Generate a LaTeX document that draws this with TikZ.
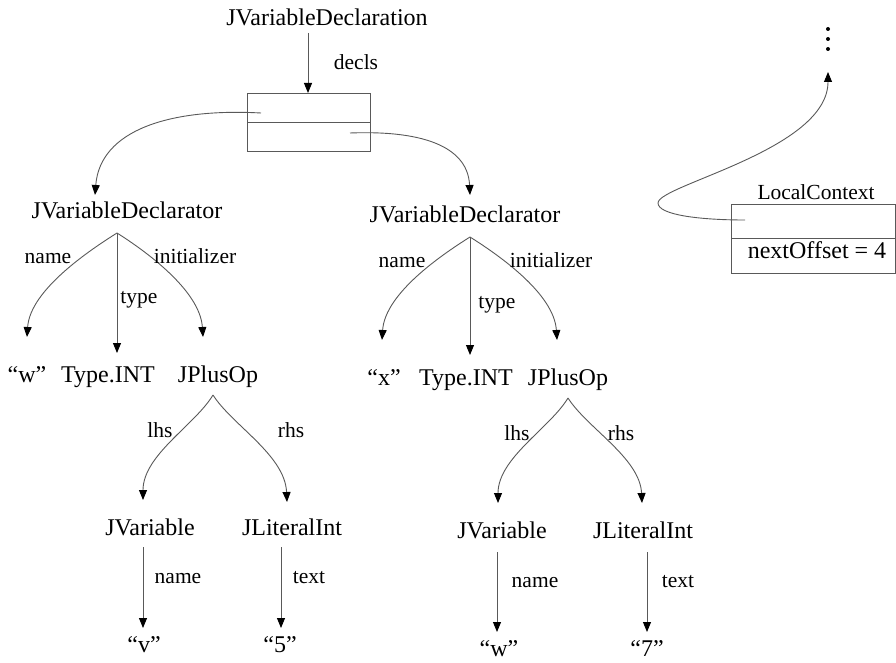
\documentclass[tikz,border=0pt]{standalone}
\usepackage{fontspec}
\setmainfont{Liberation Serif}
\usetikzlibrary{arrows.meta}
\newcommand\ndfont{\fontsize{24}{28}\selectfont}
\newcommand\lblfont{\fontsize{21.5}{26}\selectfont}
\tikzset{
  nd/.style={font=\ndfont, inner sep=0pt, anchor=base},
  lbl/.style={font=\lblfont, inner sep=0pt, anchor=base},
  arr/.style={draw=black!65, line width=0.9pt, -{Triangle[length=10pt,width=8pt,color=black]}},
  boxline/.style={draw=black!65, line width=0.8pt}
}
\begin{document}
\begin{tikzpicture}[x=1pt,y=-1pt]
\useasboundingbox (0,0) rectangle (896,663);
% top
\node[nd] (decl) at (327,26) {JVariableDeclaration};
\coordinate (declOut) at (308,33);
\draw[boxline] (247,93) rectangle (370,151);
\draw[boxline] (247,122) -- (370,122);
\coordinate (boxTop) at (308,93);
\coordinate (slot1) at (261,113);
\coordinate (slot2) at (350,133);
\draw[arr] (declOut) -- (boxTop);
\node[lbl] (lDecls) at (356,70) {decls};

% left declarator
\node[nd] (vd1) at (127,218) {JVariableDeclarator};
\coordinate (vd1in) at (95,195);
\coordinate (vd1r) at (117,233);
\draw[arr] (slot1) .. controls (170,108) and (100,130) .. (vd1in);
\node[nd] (w1) at (27,382) {“w”};
\node[nd] (t1) at (108,382) {Type.INT};
\node[nd] (p1) at (218,382) {JPlusOp};
\coordinate (w1in) at (27,337);
\coordinate (t1in) at (117,353);
\coordinate (p1in) at (203,337);
\draw[arr] (vd1r) .. controls (90,250) and (30,290) .. (w1in);
\draw[arr] (vd1r) -- (t1in);
\draw[arr] (vd1r) .. controls (144,250) and (200,290) .. (p1in);
\node[lbl] at (48,263) {name};
\node[lbl] at (139,303) {type};
\node[lbl] at (195,263) {initializer};

% right declarator
\node[nd] (vd2) at (465,222) {JVariableDeclarator};
\coordinate (vd2in) at (470,195);
\coordinate (vd2r) at (470,237);
\draw[arr] (slot2) .. controls (430,130) and (468,150) .. (vd2in);
\node[nd] (x2) at (384,385) {“x”};
\node[nd] (t2) at (466,385) {Type.INT};
\node[nd] (p2) at (568,385) {JPlusOp};
\coordinate (x2in) at (382,340);
\coordinate (t2in) at (470,355);
\coordinate (p2in) at (557,340);
\draw[arr] (vd2r) .. controls (443,254) and (385,293) .. (x2in);
\draw[arr] (vd2r) -- (t2in);
\draw[arr] (vd2r) .. controls (497,254) and (554,293) .. (p2in);
\node[lbl] at (402,267) {name};
\node[lbl] at (497,308) {type};
\node[lbl] at (551,267) {initializer};

% left plus
\coordinate (p1r) at (213,395);
\node[nd] (jv1) at (150,535) {JVariable};
\node[nd] (jl1) at (292,535) {JLiteralInt};
\coordinate (jv1in) at (143,500);
\coordinate (jl1in) at (287,502);
\draw[arr] (p1r) .. controls (195,425) and (143,455) .. (jv1in);
\draw[arr] (p1r) .. controls (232,425) and (285,455) .. (jl1in);
\node[lbl] at (160,437) {lhs};
\node[lbl] at (291,437) {rhs};
\coordinate (jv1out) at (143,547);
\coordinate (jl1out) at (281,547);
\node[nd] (v1) at (144,652) {“v”};
\node[nd] (f1) at (280,652) {“5”};
\coordinate (v1in) at (143,628);
\coordinate (f1in) at (281,628);
\draw[arr] (jv1out) -- (v1in);
\draw[arr] (jl1out) -- (f1in);
\node[lbl] at (178,583) {name};
\node[lbl] at (309,583) {text};

% right plus
\coordinate (p2r) at (568,398);
\node[nd] (jv2) at (502,538) {JVariable};
\node[nd] (jl2) at (643,538) {JLiteralInt};
\coordinate (jv2in) at (498,503);
\coordinate (jl2in) at (642,503);
\draw[arr] (p2r) .. controls (550,428) and (498,458) .. (jv2in);
\draw[arr] (p2r) .. controls (587,428) and (640,458) .. (jl2in);
\node[lbl] at (517,440) {lhs};
\node[lbl] at (621,440) {rhs};
\coordinate (jv2out) at (497,552);
\coordinate (jl2out) at (647,552);
\node[nd] (w2) at (499,656) {“w”};
\node[nd] (s2) at (647,656) {“7”};
\coordinate (w2in) at (497,632);
\coordinate (s2in) at (647,632);
\draw[arr] (jv2out) -- (w2in);
\draw[arr] (jl2out) -- (s2in);
\node[lbl] at (535,587) {name};
\node[lbl] at (678,587) {text};

% local context
\node[lbl] (lc) at (816,199) {LocalContext};
\draw[boxline] (731,204) rectangle (895,273);
\draw[boxline] (731,238) -- (895,238);
\node[nd] (off) at (817,258) {nextOffset = 4};
\coordinate (lcslot) at (745,220);
\coordinate (up) at (828,72);
\draw[arr] (lcslot) .. controls (700,220) and (658,215) .. (658,203)
  .. controls (658,185) and (828,150) .. (up);
\fill (828,29) circle[radius=2pt];
\fill (828,39) circle[radius=2pt];
\fill (828,49) circle[radius=2pt];
\end{tikzpicture}
\end{document}
